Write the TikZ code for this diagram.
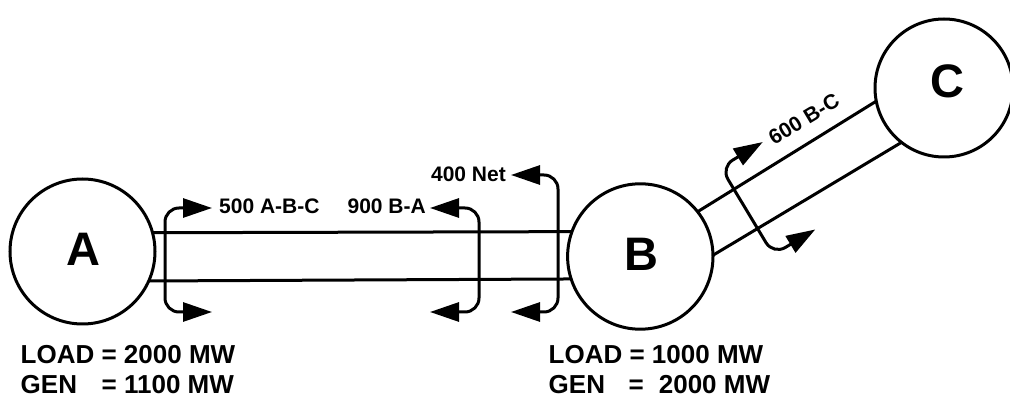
\documentclass[tikz,border=0pt]{standalone}
\usepackage{fontspec}
\setmainfont{Liberation Sans}
\usetikzlibrary{arrows.meta}
\begin{document}
\begin{tikzpicture}[x=1pt,y=-1pt,
  bus/.style={draw, circle, line width=3pt, inner sep=0pt, outer sep=0pt},
  busname/.style={font=\fontsize{47}{50}\selectfont\bfseries, inner sep=0pt},
  tie/.style={line width=3pt},
  flow/.style={line width=3pt, rounded corners=14pt,
    {Triangle[length=29pt,width=19pt]}-{Triangle[length=29pt,width=19pt]}},
  flowlabel/.style={font=\fontsize{21}{24}\selectfont\bfseries, inner sep=0pt},
  info/.style={font=\fontsize{26}{30}\selectfont\bfseries, inner sep=0pt, anchor=base west}]
\path[use as bounding box] (0,0) rectangle (1010,403);

% buses
\node[bus, minimum size=145pt] (A) at (82.5,251.5) {};
\node[bus, minimum size=145.4pt] (B) at (640.3,256.5) {};
\node[bus, minimum size=138pt] (C) at (944,88) {};
\node[busname] (Aname) at (83,249) {A};
\node[busname] (Bname) at (641,254) {B};
\node[busname] (Cname) at (947,81) {C};

% tie lines
\draw[tie] (A.15.6) -- (B.160.3);
\draw[tie] (A.336.9) -- (B.198.9);
\draw[tie] (B.38.9) -- (C.191.8);
\draw[tie] (B.1.2) -- (C.232.1);

% flow 500 A-B-C
\coordinate (f1t) at (212,208);
\coordinate (f1b) at (212,312);
\draw[flow] (f1t) -- (165,208) -- (165,312) -- (f1b);
\node[flowlabel, anchor=base west] (l1) at (219,214) {500 A-B-C};

% flow 900 B-A
\coordinate (f2t) at (430,208);
\coordinate (f2b) at (430,312);
\draw[flow] (f2t) -- (479,208) -- (479,312) -- (f2b);
\node[flowlabel, anchor=base east] (l2) at (426,214) {900 B-A};

% flow 400 Net
\coordinate (f3t) at (511,175);
\coordinate (f3b) at (511,312);
\draw[flow] (f3t) -- (558,175) -- (558,312) -- (f3b);
\node[flowlabel, anchor=base east] (l3) at (506,182) {400 Net};

% flow 600 B-C
\begin{scope}[shift={(747,211)}, rotate=31]
  \coordinate (f4t) at (49,-51);
  \coordinate (f4b) at (49,51);
  \draw[flow] (f4t) -- (0,-51) -- (0,51) -- (f4b);
\end{scope}
\node[flowlabel, rotate=31] (l4) at (804,119) {600 B-C};

% bus data
\node[info] (loadA) at (20.5,363.5) {LOAD = 2000 MW};
\node[info] (genA) at (20.5,394) {\makebox[81pt][l]{GEN}= 1100 MW};
\node[info] (loadB) at (548.5,363.5) {LOAD = 1000 MW};
\node[info] (genB) at (548.5,394) {\makebox[80pt][l]{GEN}=\hspace{15pt}2000 MW};
\end{tikzpicture}
\end{document}
